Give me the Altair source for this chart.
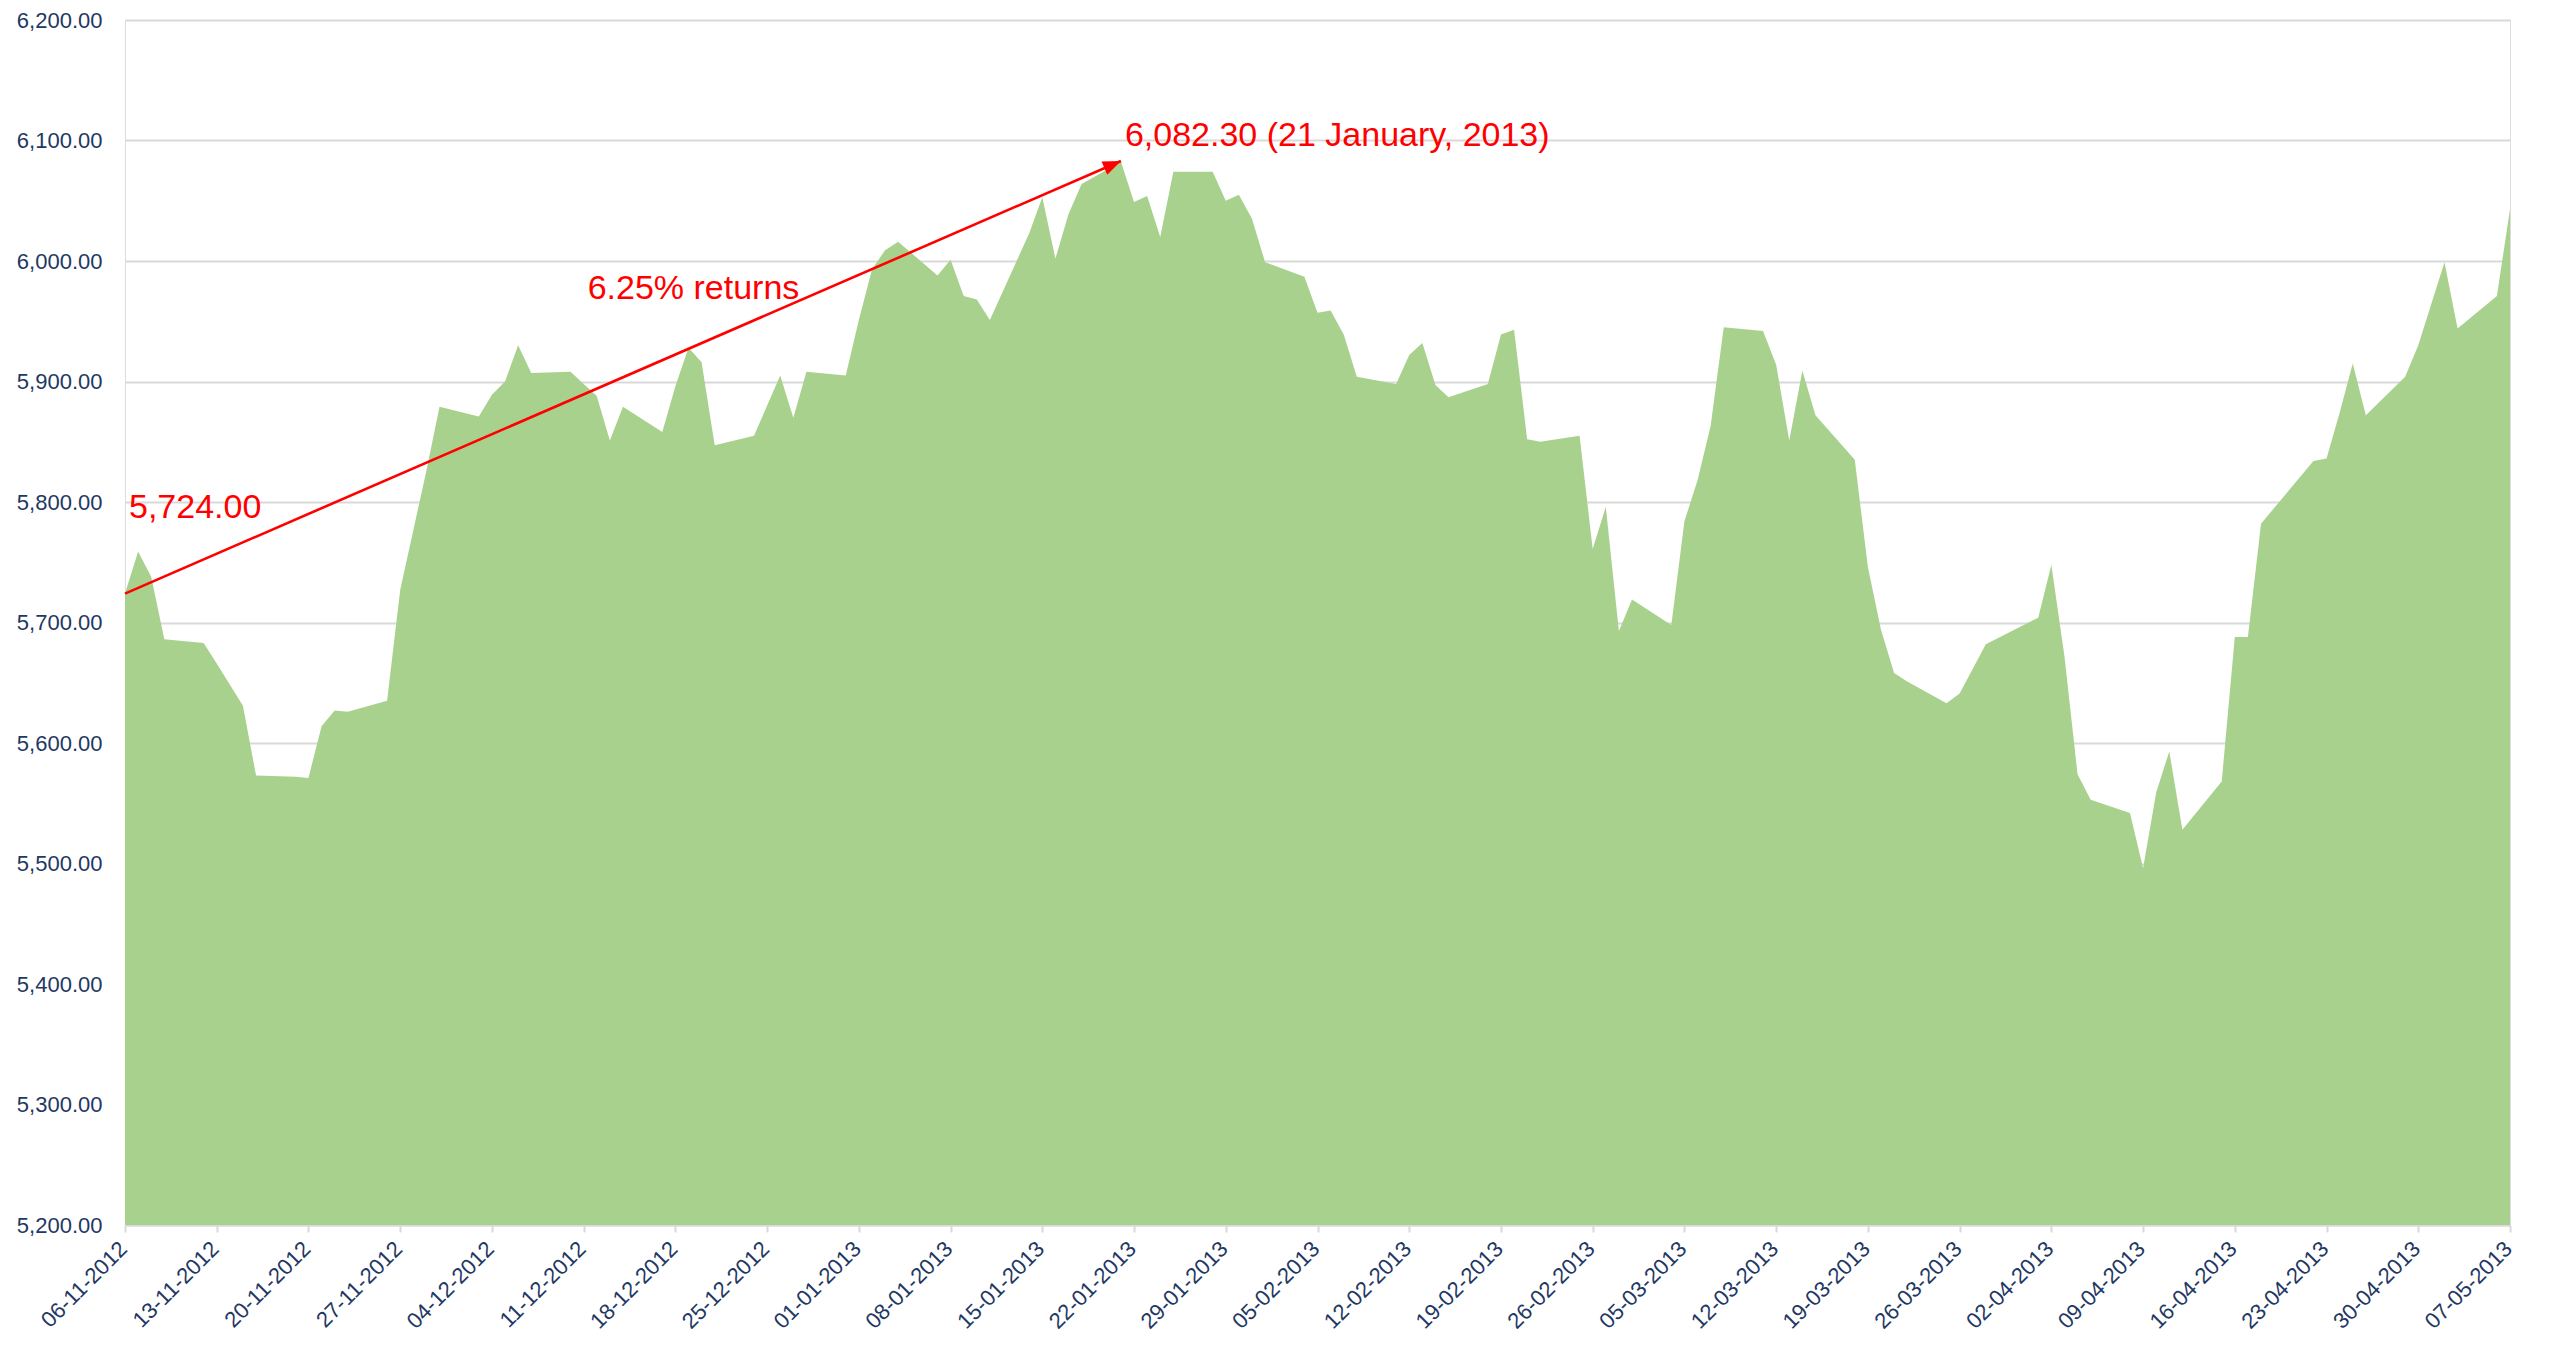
import math
import altair as alt
import pandas as pd

# ---- data (NIFTY close) ----
dates = [
    "2012-11-06", "2012-11-07", "2012-11-08", "2012-11-09", "2012-11-12", "2012-11-13",
    "2012-11-15", "2012-11-16", "2012-11-19", "2012-11-20", "2012-11-21", "2012-11-22",
    "2012-11-23", "2012-11-26", "2012-11-27", "2012-11-29", "2012-11-30", "2012-12-03",
    "2012-12-04", "2012-12-05", "2012-12-06", "2012-12-07", "2012-12-10", "2012-12-11",
    "2012-12-12", "2012-12-13", "2012-12-14", "2012-12-17", "2012-12-18", "2012-12-19",
    "2012-12-20", "2012-12-21", "2012-12-24", "2012-12-26", "2012-12-27", "2012-12-28",
    "2012-12-31", "2013-01-01", "2013-01-02", "2013-01-03", "2013-01-04", "2013-01-07",
    "2013-01-08", "2013-01-09", "2013-01-10", "2013-01-11", "2013-01-14", "2013-01-15",
    "2013-01-16", "2013-01-17", "2013-01-18", "2013-01-21", "2013-01-22", "2013-01-23",
    "2013-01-24", "2013-01-25", "2013-01-28", "2013-01-29", "2013-01-30", "2013-01-31",
    "2013-02-01", "2013-02-04", "2013-02-05", "2013-02-06", "2013-02-07", "2013-02-08",
    "2013-02-11", "2013-02-12", "2013-02-13", "2013-02-14", "2013-02-15", "2013-02-18",
    "2013-02-19", "2013-02-20", "2013-02-21", "2013-02-22", "2013-02-25", "2013-02-26",
    "2013-02-27", "2013-02-28", "2013-03-01", "2013-03-04", "2013-03-05", "2013-03-06",
    "2013-03-07", "2013-03-08", "2013-03-11", "2013-03-12", "2013-03-13", "2013-03-14",
    "2013-03-15", "2013-03-18", "2013-03-19", "2013-03-20", "2013-03-21", "2013-03-22",
    "2013-03-25", "2013-03-26", "2013-03-28", "2013-04-01", "2013-04-02", "2013-04-03",
    "2013-04-04", "2013-04-05", "2013-04-08", "2013-04-09", "2013-04-10", "2013-04-11",
    "2013-04-12", "2013-04-15", "2013-04-16", "2013-04-17", "2013-04-18", "2013-04-22",
    "2013-04-23", "2013-04-24", "2013-04-25", "2013-04-26", "2013-04-29", "2013-04-30",
    "2013-05-02", "2013-05-03", "2013-05-06", "2013-05-07",
]
values = [
    5724.0, 5759, 5738, 5686, 5683, 5666,
    5631, 5573, 5572, 5571, 5614, 5627,
    5626, 5635, 5727, 5826, 5879, 5871,
    5889, 5900, 5930, 5907, 5908, 5898,
    5888, 5851, 5879, 5858, 5896, 5928,
    5916, 5847, 5855, 5905, 5870, 5908,
    5905, 5951, 5993, 6009, 6016, 5988,
    6001, 5971, 5968, 5951, 6023, 6053,
    6002, 6039, 6064, 6082.3, 6049, 6054,
    6020, 6074, 6074, 6050, 6055, 6035,
    5999, 5987, 5957, 5959, 5939, 5904,
    5898, 5922, 5932, 5897, 5887, 5898,
    5939, 5943, 5852, 5850, 5855, 5761,
    5796, 5693, 5719, 5698, 5784, 5818,
    5863, 5945, 5942, 5914, 5851, 5909,
    5872, 5835, 5746, 5694, 5658, 5651,
    5633, 5641, 5682, 5704, 5748, 5672,
    5574, 5553, 5542, 5496, 5559, 5593,
    5528, 5568, 5688, 5688, 5782, 5834,
    5836, 5874, 5915, 5872, 5904, 5930,
    5999, 5944, 5971, 6043,
]

tick_dates = [
    "2012-11-06", "2012-11-13", "2012-11-20", "2012-11-27", "2012-12-04", "2012-12-11",
    "2012-12-18", "2012-12-25", "2013-01-01", "2013-01-08", "2013-01-15", "2013-01-22",
    "2013-01-29", "2013-02-05", "2013-02-12", "2013-02-19", "2013-02-26", "2013-03-05",
    "2013-03-12", "2013-03-19", "2013-03-26", "2013-04-02", "2013-04-09", "2013-04-16",
    "2013-04-23", "2013-04-30", "2013-05-07",
]
y_ticks = [5200, 5300, 5400, 5500, 5600, 5700, 5800, 5900, 6000, 6100, 6200]

# annotation content
arrow_dates = ["2012-11-06", "2013-01-21"]
arrow_values = [5724.0, 6083.0]
label_texts = ["5,724.00", "6.25% returns", "6,082.30 (21 January, 2013)"]
label_dates = ["2012-11-06", "2012-12-11", "2013-01-21"]
label_values = [5795, 5977, 6104]

# ---- styling ----
W, H = 2385, 1205
GREEN = "#A9D18E"
NAVY = "#1F3864"
GRID = "#D9D9D9"
RED = "#FF0000"
FONT = "Liberation Sans"


def dt(s):
    y, m, d = (int(p) for p in s.split("-"))
    return alt.DateTime(year=y, month=m, date=d, utc=True)


x_scale = alt.Scale(type="utc", domain=[dt(tick_dates[0]), dt(tick_dates[-1])])
y_scale = alt.Scale(domain=[y_ticks[0], y_ticks[-1]], nice=False, zero=False)

x_axis = alt.Axis(
    values=[dt(s) for s in tick_dates], format="%d-%m-%Y", title=None,
    labelAngle=-45, labelAlign="right", labelBaseline="middle",
    labelFont=FONT, labelFontSize=22, labelColor=NAVY, labelPadding=13,
    labelOffset=-2,
    labelFlush=False, labelOverlap=False, labelBound=False,
    tickColor=GRID, tickSize=7, tickWidth=2,
    domainColor=GRID, domainWidth=2, grid=False,
)
y_axis = alt.Axis(
    values=y_ticks, format=",.2f", title=None,
    labelFont=FONT, labelFontSize=22, labelColor=NAVY, labelPadding=23,
    ticks=False, domain=False, grid=True, gridColor=GRID, gridWidth=2,
)

df = pd.DataFrame({"date": dates, "value": values})

area = alt.Chart(df).mark_area(color=GREEN, opacity=1, interpolate="linear").encode(
    x=alt.X("date:T", scale=x_scale, axis=x_axis),
    y=alt.Y("value:Q", scale=y_scale, axis=y_axis),
    y2=alt.datum(y_ticks[0]),
)

arrow_df = pd.DataFrame({"date": arrow_dates, "value": arrow_values})
arrow_line = alt.Chart(arrow_df).mark_line(color=RED, strokeWidth=2.6).encode(
    x="date:T", y="value:Q"
)

# arrowhead orientation from the pixel slope of the arrow
days = (pd.Timestamp(arrow_dates[1]) - pd.Timestamp(arrow_dates[0])).days
total_days = (pd.Timestamp(tick_dates[-1]) - pd.Timestamp(tick_dates[0])).days
dx_px = days * W / total_days
dy_px = (arrow_values[1] - arrow_values[0]) * H / (y_ticks[-1] - y_ticks[0])
head_angle = (-math.degrees(math.atan2(dy_px, dx_px))) % 360

head_df = pd.DataFrame({"date": [arrow_dates[1]], "value": [arrow_values[1]]})
arrow_head = alt.Chart(head_df).mark_point(
    shape="M0,0 L-1,-0.4 L-1,0.4 Z", filled=True, color=RED, opacity=1,
    size=1300, angle=head_angle, strokeWidth=0,
).encode(x="date:T", y="value:Q")

labels_df = pd.DataFrame({"date": label_dates, "value": label_values, "text": label_texts})
labels = alt.Chart(labels_df).mark_text(
    align="left", baseline="middle", dx=4, font=FONT, fontSize=34, color=RED
).encode(x="date:T", y="value:Q", text="text:N")

chart = (
    alt.layer(area, arrow_line, arrow_head, labels)
    .properties(
        width=W, height=H,
        autosize=alt.AutoSizeParams(type="none"),
        padding={"left": 117, "top": 12, "right": 36, "bottom": 123},
    )
    .configure_view(strokeWidth=0)
    .configure(background="white")
)

chart.save("out.html", embed_options={"renderer": "svg", "actions": False})
